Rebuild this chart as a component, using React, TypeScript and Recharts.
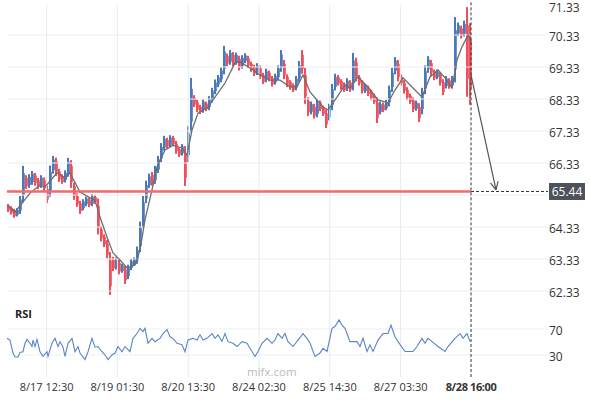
import React from 'react';
import { ComposedChart, LineChart, Bar, Line, XAxis, YAxis, ReferenceLine } from 'recharts';

// ---- price candles (30-min bars, one entry per drawn bar) ----
const firstOpen = 64.95;
const closes = [
  64.89, 64.83, 64.71, 64.80, 65.17, 65.80, 65.64, 65.74, 65.92, 65.74,
  65.64, 65.77, 65.55, 65.33, 66.11, 66.42, 66.05, 65.86, 65.80, 65.96,
  66.36, 65.64, 65.30, 65.08, 64.92, 65.08, 65.17, 65.05, 65.24, 65.17,
  64.24, 63.99, 63.83, 63.46, 63.24, 63.11, 63.24, 62.99, 63.05, 62.77,
  63.05, 63.21, 63.24, 63.61, 64.39, 65.17, 65.64, 65.86, 65.74, 66.11,
  66.42, 66.80, 67.05, 66.89, 67.11, 66.96, 66.74, 66.64, 66.80, 66.42,
  67.36, 68.30, 68.21, 68.05, 67.99, 68.17, 68.05, 68.30, 68.55, 68.80,
  68.92, 69.17, 69.61, 69.49, 69.71, 69.49, 69.61, 69.36, 69.55, 69.61,
  69.42, 69.30, 69.17, 69.30, 69.08, 68.92, 69.14, 68.99, 68.86, 68.99,
  69.24, 69.49, 69.05, 68.83, 68.74, 68.67, 68.92, 69.39, 69.24, 68.30,
  67.92, 68.11, 67.83, 68.17, 68.05, 67.92, 67.74, 68.05, 68.67, 68.99,
  68.86, 68.74, 68.67, 68.86, 68.67, 69.55, 68.99, 68.86, 68.61, 68.67,
  68.55, 68.42, 68.30, 67.92, 68.11, 68.05, 68.17, 68.61, 69.17, 69.49,
  68.99, 68.86, 68.61, 68.42, 68.30, 68.05, 68.14, 67.92, 68.55, 69.24,
  69.49, 69.17, 69.05, 69.11, 68.86, 68.74, 68.92, 68.77, 68.92, 70.42,
  70.55, 70.36, 70.61, 70.50, 68.21,
];
const highs = [
  65.05, 64.98, 64.90, 64.92, 65.30, 66.24, 65.95, 65.98, 66.08, 66.02,
  65.86, 65.95, 65.88, 65.62, 66.25, 66.55, 66.50, 66.15, 65.98, 66.10,
  66.49, 66.42, 65.72, 65.38, 65.15, 65.20, 65.28, 65.25, 65.36, 65.32,
  65.22, 64.35, 64.10, 63.92, 63.55, 63.40, 63.38, 63.30, 63.18, 63.12,
  63.15, 63.33, 63.38, 63.72, 64.50, 65.30, 65.78, 66.00, 66.05, 66.24,
  66.55, 66.95, 67.18, 67.12, 67.20, 67.18, 67.02, 66.82, 66.92, 66.86,
  67.48, 68.99, 68.45, 68.30, 68.15, 68.32, 68.25, 68.42, 68.68, 68.94,
  69.08, 69.32, 69.99, 69.75, 69.86, 69.80, 69.78, 69.68, 69.70, 69.76,
  69.68, 69.50, 69.40, 69.45, 69.38, 69.15, 69.28, 69.22, 69.05, 69.12,
  69.38, 69.86, 69.55, 69.10, 68.92, 68.82, 69.05, 69.52, 69.86, 69.30,
  68.38, 68.25, 68.18, 68.30, 68.28, 68.12, 68.00, 68.18, 68.80, 69.12,
  69.08, 68.95, 68.85, 68.98, 68.92, 69.77, 69.62, 69.08, 68.92, 68.80,
  68.75, 68.62, 68.50, 68.38, 68.25, 68.22, 68.30, 68.75, 69.30, 69.64,
  69.55, 69.10, 68.92, 68.70, 68.50, 68.38, 68.28, 68.20, 68.68, 69.38,
  69.67, 69.55, 69.25, 69.25, 69.18, 68.95, 69.05, 68.98, 69.05, 70.89,
  70.72, 70.62, 70.78, 71.20, 70.70,
];
const lows = [
  64.80, 64.72, 64.62, 64.66, 64.74, 65.10, 65.52, 65.55, 65.65, 65.62,
  65.52, 65.55, 65.45, 65.08, 65.28, 66.00, 65.92, 65.74, 65.68, 65.72,
  65.90, 65.55, 65.18, 64.96, 64.74, 64.85, 64.98, 64.95, 64.98, 65.05,
  64.10, 63.88, 63.70, 63.35, 62.21, 62.95, 63.00, 62.85, 62.90, 62.55,
  62.70, 62.98, 63.12, 63.18, 63.55, 64.30, 65.08, 65.55, 65.62, 65.68,
  66.02, 66.35, 66.72, 66.78, 66.82, 66.85, 66.62, 66.52, 66.56, 65.61,
  66.35, 67.28, 68.08, 67.92, 67.86, 67.90, 67.95, 67.98, 68.22, 68.48,
  68.70, 68.85, 69.10, 69.36, 69.40, 69.35, 69.40, 69.22, 69.28, 69.45,
  69.30, 69.18, 69.05, 69.08, 68.95, 68.80, 68.85, 68.88, 68.72, 68.78,
  68.92, 69.18, 68.95, 68.70, 68.62, 68.55, 68.60, 68.85, 69.12, 68.18,
  67.80, 67.85, 67.72, 67.76, 67.95, 67.80, 67.42, 67.66, 67.98, 68.60,
  68.75, 68.62, 68.55, 68.58, 68.55, 68.60, 68.88, 68.75, 68.50, 68.52,
  68.42, 68.30, 68.18, 67.58, 67.85, 67.92, 67.98, 68.10, 68.55, 69.10,
  68.88, 68.75, 68.50, 68.30, 68.18, 67.92, 67.96, 67.61, 67.85, 68.48,
  69.15, 69.05, 68.92, 68.95, 68.75, 68.45, 68.66, 68.65, 68.68, 68.85,
  70.30, 70.22, 70.28, 68.40, 68.15,
];

// ---- moving average ----
const maTimes = [0, 2.67, 7.67, 11, 12.67, 16.67, 19.33, 21, 24.33, 27.67, 29.33, 31, 33.33, 35.33, 37.67, 40, 42.67, 44.33, 46, 48.33, 50, 52.67, 55.33, 58.33, 60, 61.67, 63.67, 67, 69.33, 72.67, 76, 77.67, 81, 84.33, 87.67, 91, 94.33, 96.67, 98.67, 101, 103.33, 105.33, 107, 110, 112.67, 114.33, 117, 120.33, 123.67, 127, 129.33, 132, 136, 138.33, 141, 143.67, 146, 148.33, 150, 151.67, 153.67, 154.67];
const maValues = [65.02, 64.80, 65.39, 65.64, 65.58, 66.02, 65.86, 66.02, 65.42, 65.24, 65.17, 64.64, 64.02, 63.52, 63.30, 63.05, 63.14, 63.61, 64.55, 65.49, 66.21, 66.74, 66.89, 66.80, 66.58, 67.36, 67.89, 68.08, 68.39, 68.83, 69.46, 69.49, 69.30, 69.08, 68.92, 68.92, 68.71, 68.71, 69.08, 68.55, 68.30, 68.08, 67.99, 68.39, 68.77, 68.67, 69.02, 68.71, 68.30, 68.21, 68.61, 68.99, 68.61, 68.39, 69.02, 69.24, 68.99, 68.67, 69.55, 69.96, 70.33, 70.08];

// ---- RSI ----
const rsiTimes = [0, 1, 2, 2.67, 3.67, 4.33, 5.33, 6, 6.67, 7.67, 8.33, 8.67, 9.33, 10, 11, 12, 13.33, 13.67, 15, 16, 17, 17.67, 18.67, 19.33, 20.33, 21.67, 22.67, 23.67, 24.33, 26, 27, 28.33, 29.33, 30.33, 31.67, 32.67, 33.67, 35, 36, 37, 38.33, 39.33, 41, 42, 43.33, 44.33, 45.33, 46, 47, 48.33, 49.33, 51, 52, 53.33, 54.33, 55.33, 56.67, 58.33, 59.33, 60.33, 62, 63.33, 64.33, 65.33, 66.67, 68.33, 69.33, 70.33, 71.67, 72.67, 73.67, 75.33, 76.67, 78.33, 80, 81, 82.67, 83.67, 85, 86.67, 88.33, 89.33, 90.33, 91.67, 92.67, 93.67, 95.33, 97, 98.67, 100, 101, 102.67, 104.33, 105.33, 106.67, 108.33, 109.33, 110.67, 111.67, 112.67, 114.33, 116.67, 117.67, 118.67, 120, 121, 122, 123.67, 125.33, 127, 128, 129.33, 130.33, 132.67, 135.33, 136.67, 138.33, 139.33, 140.33, 141.67, 143.67, 146, 147, 149.33, 151, 152, 153.33, 154.33];
const rsiValues = [55.6, 53, 33, 27, 27, 34, 35, 48, 54, 48, 43, 53, 43, 54, 35, 28, 35, 28, 48, 55.6, 43, 50.5, 42, 28, 48, 55.6, 35, 43, 33, 23, 35, 55.6, 42, 43, 35, 30, 23, 30, 33, 43, 35, 43, 35, 55.6, 63, 71, 66, 71, 48, 55.6, 50.5, 55.6, 63, 69, 58, 55.6, 48, 46, 35, 53, 55.6, 53, 61, 53, 55.6, 63, 55.6, 61, 51, 63, 50.5, 48, 43, 50.5, 48, 40.3, 27.7, 35.4, 48, 55.6, 48, 53, 63, 55.6, 63, 50.5, 43, 53, 63, 55.6, 48, 27.7, 33, 40.3, 35.4, 71, 73.8, 84, 76, 71, 50.5, 50.5, 43, 55.6, 35.4, 45.6, 35.4, 53, 63, 63, 76, 58, 50.5, 35.4, 35.4, 43, 55.6, 48, 55.6, 50.5, 43, 35.4, 43, 55.6, 63, 55.6, 63, 50.5];

// ---- axes ----
const priceTicks = [62.33, 63.33, 64.33, 65.33, 66.33, 67.33, 68.33, 69.33, 70.33, 71.33];
const lastPrice = 65.44;
const timeTicks = [13.2, 36.8, 60.4, 84.0, 107.6, 131.2, 154.67];
const timeLabels = ['8/17 12:30', '8/19 01:30', '8/20 13:30', '8/24 02:30', '8/25 14:30', '8/27 03:30', '8/28 16:00'];
const rsiTicks = [30, 70];
const arrowStart = { t: 154.67, v: 69.08 };
const arrowEnd = { t: 163, v: 65.49 };

const X_DOMAIN: [number, number] = [0, 180.33];
const P_DOMAIN: [number, number] = [62.049, 71.424];
const R_DOMAIN: [number, number] = [-3.85, 114.6];

const BLUE = '#4a79b9';
const RED = '#ef4f5a';
const GRID = '#edf0f4';
const VGRID = '#e4ecf5';
const FONT = '"Open Sans", sans-serif';

const candles = closes.map((c, i) => ({
  t: i + 0.5,
  open: i === 0 ? firstOpen : closes[i - 1],
  close: c,
  high: highs[i],
  low: lows[i],
}));
const maData = maTimes.map((t, i) => ({ t, v: maValues[i] }));
const rsiData = rsiTimes.map((t, i) => ({ t, v: rsiValues[i] }));
const lastIndexTime = timeTicks[timeTicks.length - 1];

const CandleShape = (props: any) => {
  const { x, y, width, height, payload } = props;
  if (!payload || x == null) return null;
  const { open, close } = payload;
  const top = Math.min(y, y + height);
  const h = Math.abs(height);
  const color = close >= open ? BLUE : RED;
  const cx = x + width / 2;
  const left = Math.round(cx - 1.3);
  return (
    <g>
      <rect x={left} y={top} width={2} height={Math.max(h, 1)} fill={color} />
      <rect x={left + 2} y={top + h * 0.2} width={1} height={Math.max(h * 0.6, 1)} fill={color} opacity={0.8} />
    </g>
  );
};

const PriceTick = (props: any) => {
  const { x, y, payload } = props;
  const v = payload.value;
  if (v === lastPrice) {
    return (
      <g>
        <rect x={x + 1} y={y - 8.5} width={36} height={17} fill="#4d525b" />
        <text x={x + 19} y={y + 4.5} textAnchor="middle" fill="#fff" fontSize={12} fontFamily={FONT}>
          {v.toFixed(2)}
        </text>
      </g>
    );
  }
  if (v === 65.33) return null;
  const dy = v === 71.33 ? 8.5 : 6;
  return (
    <text x={x + 1} y={y + dy} textAnchor="start" fill="#333" fontSize={12} fontFamily={FONT}>
      {v.toFixed(2)}
    </text>
  );
};

const RsiTick = (props: any) => {
  const { x, y, payload } = props;
  return (
    <text x={x + 1} y={y + 6.5} textAnchor="start" fill="#333" fontSize={12} fontFamily={FONT}>
      {payload.value}
    </text>
  );
};

const TimeTick = (props: any) => {
  const { x, y, index } = props;
  const last = index === timeLabels.length - 1;
  return (
    <text
      x={x}
      y={y + 14}
      textAnchor="middle"
      fill="#333"
      fontSize={11}
      fontWeight={last ? 'bold' : 'normal'}
      letterSpacing={last ? -0.4 : 0}
      fontFamily={FONT}
    >
      {timeLabels[index]}
    </text>
  );
};

const ArrowShape = (props: any) => {
  const { x1, y1, x2, y2 } = props;
  if (x1 == null) return null;
  const ang = Math.atan2(y2 - y1, x2 - x1);
  const len = 9;
  const a1 = ang + Math.PI - 0.45;
  const a2 = ang + Math.PI + 0.45;
  return (
    <g>
      <line x1={x1} y1={y1} x2={x2} y2={y2} stroke="#555" strokeWidth={1.2} />
      <line x1={x2} y1={y2} x2={x2 + len * Math.cos(a1)} y2={y2 + len * Math.sin(a1)} stroke="#555" strokeWidth={1.2} />
      <line x1={x2} y1={y2} x2={x2 + len * Math.cos(a2)} y2={y2 + len * Math.sin(a2)} stroke="#555" strokeWidth={1.2} />
    </g>
  );
};

export default function App() {
  return (
    <div style={{ position: 'absolute', left: 0, top: 0, width: 590, height: 400, background: '#fff', fontFamily: FONT }}>
      <div style={{ position: 'absolute', left: 0, top: 0 }}>
        <ComposedChart width={590} height={300} data={candles} margin={{ top: 0, right: 0, bottom: 0, left: 7 }}>
          <XAxis dataKey="t" type="number" domain={X_DOMAIN} hide allowDataOverflow />
          <YAxis
            orientation="right"
            width={42}
            domain={P_DOMAIN}
            ticks={[...priceTicks, lastPrice]}
            interval={0}
            allowDataOverflow
            axisLine={false}
            tickLine={false}
            tickSize={0}
            tickMargin={0}
            tick={<PriceTick />}
          />
          {priceTicks.filter((v) => v !== 71.33).map((v) => (
            <ReferenceLine key={'h' + v} y={v} stroke={GRID} strokeWidth={1} />
          ))}
          {timeTicks.slice(0, -1).map((t) => (
            <ReferenceLine key={'v' + t} segment={[{ x: t, y: 71.27 }, { x: t, y: P_DOMAIN[0] }]} stroke={VGRID} strokeWidth={1} />
          ))}
          <Bar dataKey={(d: any) => [d.low, d.high]} barSize={3} shape={<CandleShape />} isAnimationActive={false} />
        </ComposedChart>
      </div>
      {/* overlay: moving average, last-price line, arrow */}
      <div style={{ position: 'absolute', left: 0, top: 0 }}>
        <ComposedChart width={590} height={300} margin={{ top: 0, right: 0, bottom: 0, left: 7 }}>
          <XAxis dataKey="t" type="number" domain={X_DOMAIN} hide allowDataOverflow />
          <YAxis orientation="right" width={42} domain={P_DOMAIN} allowDataOverflow axisLine={false} tickLine={false} tick={false} />
          <Line data={maData} dataKey="v" stroke="#6e6e6e" strokeWidth={1.3} dot={false} isAnimationActive={false} />
          <ReferenceLine segment={[{ x: 0, y: lastPrice }, { x: lastIndexTime, y: lastPrice }]} stroke="#f26a6a" strokeWidth={2.5} />
          <ReferenceLine segment={[{ x: lastIndexTime, y: lastPrice }, { x: X_DOMAIN[1], y: lastPrice }]} stroke="#333" strokeWidth={1} strokeDasharray="3 2" />
          <ReferenceLine segment={[{ x: lastIndexTime, y: 71.35 }, { x: lastIndexTime, y: P_DOMAIN[0] }]} stroke="#333" strokeWidth={1} strokeDasharray="3 2" />
          <ReferenceLine
            segment={[{ x: arrowStart.t, y: arrowStart.v }, { x: arrowEnd.t, y: arrowEnd.v }]}
            shape={<ArrowShape />}
          />
        </ComposedChart>
      </div>
      <div style={{ position: 'absolute', left: 0, top: 300 }}>
        <LineChart width={590} height={100} margin={{ top: 0, right: 0, bottom: 0, left: 7 }}>
          <XAxis
            dataKey="t"
            type="number"
            domain={X_DOMAIN}
            ticks={timeTicks}
            interval={0}
            allowDataOverflow
            height={23}
            axisLine={false}
            tickLine={false}
            tickSize={0}
            tickMargin={0}
            tick={<TimeTick />}
          />
          <YAxis
            orientation="right"
            width={42}
            domain={R_DOMAIN}
            ticks={rsiTicks}
            interval={0}
            allowDataOverflow
            axisLine={false}
            tickLine={false}
            tickSize={0}
            tickMargin={0}
            tick={<RsiTick />}
          />
          {rsiTicks.map((v) => (
            <ReferenceLine key={'rh' + v} y={v} stroke={GRID} strokeWidth={1} />
          ))}
          {timeTicks.slice(0, -1).map((t) => (
            <ReferenceLine key={'rv' + t} x={t} stroke={VGRID} strokeWidth={1} />
          ))}
          <ReferenceLine x={lastIndexTime} stroke="#333" strokeWidth={1} strokeDasharray="3 2" />
          <Line data={rsiData} dataKey="v" stroke="#5a85c5" strokeWidth={1.1} dot={false} isAnimationActive={false} />
        </LineChart>
      </div>
      <div style={{ position: 'absolute', left: 15, top: 306, fontSize: 11, fontWeight: 'bold', color: '#222', fontFamily: FONT }}>RSI</div>
      <div style={{ position: 'absolute', left: 247, top: 364, fontSize: 11.5, color: '#bbb', fontFamily: FONT }}>mifx.com</div>
    </div>
  );
}
